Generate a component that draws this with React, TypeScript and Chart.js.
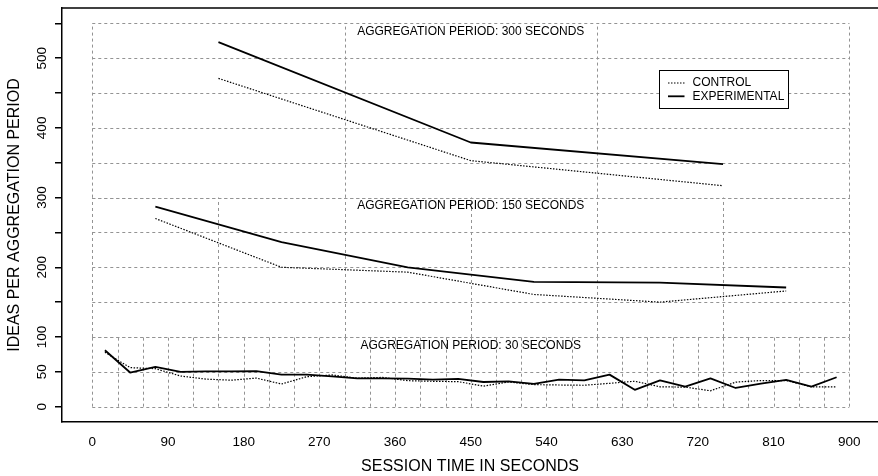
import React, { useEffect, useRef } from "react";
import { Chart, registerables } from "chart.js";

Chart.register(...registerables);

const FONT = '"Liberation Sans", Arial, Helvetica, sans-serif';

// axis ticks
const xTicks = [0, 90, 180, 270, 360, 450, 540, 630, 720, 810, 900];
const yTicks = [0, 50, 100, 150, 200, 250, 300, 350, 400, 450, 500, 550];
const yTickLabels = ["0", "50", "100", "", "200", "", "300", "", "400", "", "500", ""];

// 300-second aggregation
const time300 = [150, 450, 750];
const control300 = [471, 353, 317];
const experimental300 = [523, 379, 348];

// 150-second aggregation
const time150 = [75, 225, 375, 525, 675, 825];
const control150 = [270, 200, 193, 161, 150, 166];
const experimental150 = [287, 236, 200, 179, 178, 171];

// 30-second aggregation
const time30 = [15, 45, 75, 105, 135, 165, 195, 225, 255, 285, 315, 345, 375, 405, 435, 465, 495, 525, 555, 585, 615, 645, 675, 705, 735, 765, 795, 825, 855, 885];
const control30 = [78, 56, 54.5, 44, 39.5, 38, 41, 32.5, 43, 45.5, 41, 42, 37.3, 36.4, 35.9, 29.5, 35.4, 31.6, 31.1, 30.7, 33.5, 36.5, 28.5, 28, 22.8, 35.2, 37.5, 37.5, 28.5, 28.5];
const experimental30 = [81, 49, 57, 50, 50.5, 50.5, 51, 46, 46, 43.6, 40.7, 40.7, 40.2, 38.8, 39.8, 35.4, 36.4, 32.6, 38.8, 37.8, 46, 24.2, 37.6, 28.7, 40.7, 26.8, 33, 38.5, 28.7, 42.2];

// panels: period, bottom, top of grid block, label
const panelPeriods = [300, 150, 30];
const panelBottoms = [300, 100, 0];
const panelTops = [550, 300, 100];
const panelTitles = [
  "AGGREGATION PERIOD: 300 SECONDS",
  "AGGREGATION PERIOD: 150 SECONDS",
  "AGGREGATION PERIOD: 30 SECONDS",
];

const legendLabels = ["CONTROL", "EXPERIMENTAL"];

const pts = (xs: number[], ys: number[]) => xs.map((x, i) => ({ x, y: ys[i] }));

const CONTROL_DASH = [1.5, 1.5];

const controlStyle = {
  borderColor: "#000",
  borderWidth: 1.2,
  borderDash: CONTROL_DASH,
  pointRadius: 0,
  fill: false,
  tension: 0,
};
const expStyle = {
  borderColor: "#000",
  borderWidth: 1.8,
  pointRadius: 0,
  fill: false,
  tension: 0,
  borderJoinStyle: "round" as const,
};

const panelPlugin = {
  id: "panelGrid",
  beforeDatasetsDraw(chart: any) {
    const { ctx, scales } = chart;
    const x = scales.x;
    const y = scales.y;
    ctx.save();
    ctx.strokeStyle = "#939393";
    ctx.lineWidth = 1;
    ctx.setLineDash([3, 3]);
    const x0 = x.getPixelForValue(0);
    const x1 = x.getPixelForValue(900);
    panelPeriods.forEach((period, p) => {
      const b = panelBottoms[p];
      const t = panelTops[p];
      for (let v = b; v <= t; v += 50) {
        const py = Math.round(y.getPixelForValue(v)) + 0.5;
        ctx.beginPath();
        ctx.moveTo(x0, py);
        ctx.lineTo(x1, py);
        ctx.stroke();
      }
      for (let s = 0; s <= 900; s += period) {
        const px = Math.round(x.getPixelForValue(s)) + 0.5;
        ctx.beginPath();
        ctx.moveTo(px, y.getPixelForValue(b));
        ctx.lineTo(px, y.getPixelForValue(t));
        ctx.stroke();
      }
    });
    ctx.setLineDash([]);
    ctx.fillStyle = "#000";
    ctx.font = `12px ${FONT}`;
    ctx.textAlign = "center";
    ctx.textBaseline = "middle";
    const labelOffsets = [12, 11.5, 12.5];
    panelTitles.forEach((title, p) => {
      ctx.fillText(title, x.getPixelForValue(450), y.getPixelForValue(panelTops[p] - labelOffsets[p]));
    });
    ctx.restore();
  },
  afterDatasetsDraw(chart: any) {
    const { ctx, chartArea, scales } = chart;
    const x = scales.x;
    const y = scales.y;
    ctx.save();
    // top frame line
    ctx.strokeStyle = "#000";
    ctx.lineWidth = 1.5;
    ctx.beginPath();
    ctx.moveTo(chartArea.left, chartArea.top);
    ctx.lineTo(chartArea.right + 2, chartArea.top);
    ctx.stroke();

    // legend
    const lx = Math.round(x.getPixelForValue(674)) + 0.5;
    const ly = Math.round(y.getPixelForValue(483)) + 0.5;
    const w = 129;
    const h = 38;
    ctx.fillStyle = "#fff";
    ctx.fillRect(lx, ly, w, h);
    ctx.strokeStyle = "#000";
    ctx.lineWidth = 1;
    ctx.strokeRect(lx, ly, w, h);
    ctx.font = `12px ${FONT}`;
    ctx.textAlign = "left";
    ctx.textBaseline = "middle";
    const rows = [12.5, 25.8];
    // control sample
    ctx.setLineDash(CONTROL_DASH);
    ctx.lineWidth = 1.2;
    ctx.beginPath();
    ctx.moveTo(lx + 8.5, ly + rows[0]);
    ctx.lineTo(lx + 25, ly + rows[0]);
    ctx.stroke();
    ctx.setLineDash([]);
    ctx.lineWidth = 1.8;
    ctx.beginPath();
    ctx.moveTo(lx + 8.5, ly + rows[1]);
    ctx.lineTo(lx + 25, ly + rows[1]);
    ctx.stroke();
    ctx.fillStyle = "#000";
    ctx.fillText(legendLabels[0], lx + 33, ly + rows[0]);
    ctx.fillText(legendLabels[1], lx + 33, ly + rows[1]);
    ctx.restore();
  },
};

export default function App() {
  const ref = useRef<HTMLCanvasElement | null>(null);
  useEffect(() => {
    if (!ref.current) return;
    const chart = new Chart(ref.current, {
      type: "line",
      data: {
        datasets: [
          { label: "CONTROL 300", data: pts(time300, control300), ...controlStyle },
          { label: "EXPERIMENTAL 300", data: pts(time300, experimental300), ...expStyle },
          { label: "CONTROL 150", data: pts(time150, control150), ...controlStyle },
          { label: "EXPERIMENTAL 150", data: pts(time150, experimental150), ...expStyle },
          { label: "CONTROL 30", data: pts(time30, control30), ...controlStyle },
          { label: "EXPERIMENTAL 30", data: pts(time30, experimental30), ...expStyle },
        ] as any,
      },
      options: {
        responsive: false,
        maintainAspectRatio: false,
        devicePixelRatio: 1,
        animation: false,
        layout: { padding: { left: 0, top: 8, right: 0, bottom: 0 } },
        plugins: {
          legend: { display: false },
          tooltip: { enabled: false },
        },
        scales: {
          x: {
            type: "linear",
            position: "bottom",
            min: -36,
            max: 934.2,
            afterBuildTicks: (s: any) => {
              s.ticks = xTicks.map((v) => ({ value: v }));
            },
            afterFit: (s: any) => {
              s.height = 54;
              s.paddingLeft = 0;
              s.paddingRight = 0;
            },
            ticks: {
              autoSkip: false,
              minRotation: 0,
              maxRotation: 0,
              padding: 12,
              color: "#000",
              font: { family: FONT, size: 13.5 },
              callback: (v: any) => String(v),
            },
            grid: { drawOnChartArea: false, drawTicks: false },
            border: { display: true, color: "#000", width: 1.5 },
            title: {
              display: true,
              text: "SESSION TIME IN SECONDS",
              color: "#000",
              font: { family: FONT, size: 16 },
              padding: { top: 0, bottom: 0 },
            },
          },
          y: {
            type: "linear",
            position: "left",
            min: -22,
            max: 572,
            afterBuildTicks: (s: any) => {
              s.ticks = yTicks.map((v) => ({ value: v }));
            },
            afterFit: (s: any) => {
              s.width = 62;
              s.paddingTop = 0;
              s.paddingBottom = 0;
            },
            ticks: {
              autoSkip: false,
              minRotation: 90,
              maxRotation: 90,
              crossAlign: "center",
              padding: 1,
              color: "#000",
              font: { family: FONT, size: 13.5 },
              callback: (v: any) => {
                const i = yTicks.indexOf(Number(v));
                return i >= 0 ? yTickLabels[i] : "";
              },
            },
            grid: { drawOnChartArea: false, drawTicks: true, tickLength: 7, color: "#000", lineWidth: 1.5 },
            border: { display: true, color: "#000", width: 1.5 },
            title: {
              display: true,
              text: "IDEAS PER AGGREGATION PERIOD",
              color: "#000",
              font: { family: FONT, size: 16 },
              padding: { top: 5, bottom: 0 },
            },
          },
        },
      } as any,
      plugins: [panelPlugin],
    });
    return () => chart.destroy();
  }, []);
  return (
    <div style={{ position: "fixed", left: 0, top: 0, width: 878, height: 476, background: "#fff", overflow: "hidden" }}>
      <canvas ref={ref} width={878} height={476} style={{ display: "block", width: 878, height: 476 }} />
    </div>
  );
}
